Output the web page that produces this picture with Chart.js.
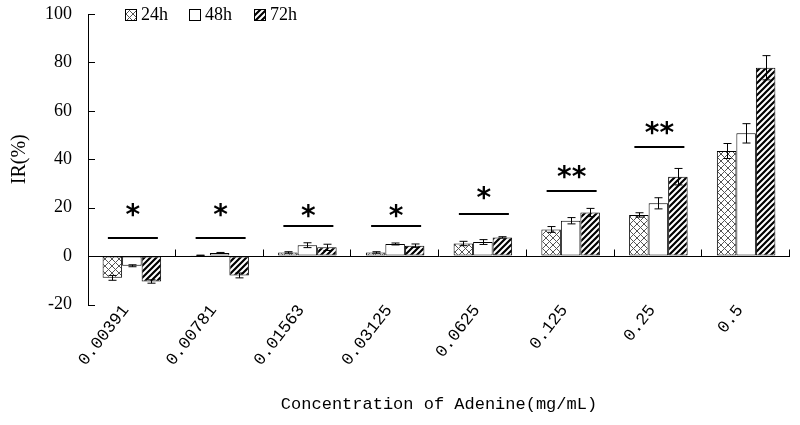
<!DOCTYPE html>
<html>
<head>
<meta charset="utf-8">
<script src="https://cdn.jsdelivr.net/npm/chart.js@4.4.1/dist/chart.umd.min.js"></script>
<style>
  html, body { margin: 0; padding: 0; background: #fff; }
  #wrap { width: 800px; height: 425px; }
</style>
</head>
<body>
<div id="wrap"><canvas id="c" width="800" height="425"></canvas></div>
<script>
// ---- data ----
const categories = ['0.00391', '0.00781', '0.01563', '0.03125', '0.0625', '0.125', '0.25', '0.5'];
const seriesNames = ['24h', '48h', '72h'];
const ir24 = [-9, 0.3, 1.5, 1.5, 5.2, 11, 17, 43.4];
const ir48 = [-4, 1.3, 4.5, 5, 5.8, 14.6, 21.8, 50.7];
const ir72 = [-10.5, -8, 3.6, 4.3, 7.7, 18, 32.8, 77.8];
const err24 = [1, 0.1, 0.3, 0.3, 0.9, 1.2, 0.9, 3.1];
const err48 = [0.4, 0.2, 1, 0.4, 1, 1.3, 2.3, 4];
const err72 = [0.7, 1, 1.3, 0.7, 0.3, 1.7, 3.4, 5];
const sigMarks = ['*', '*', '*', '*', '*', '**', '**', ''];
const sigLineY = [7.4, 7.4, 12.5, 12.5, 17.4, 27, 45.2, null];
const sigStarY = [19, 19, 18.7, 18.7, 26, 34.7, 52.8, null];
const yMin = -20, yMax = 100, yStep = 20;

// ---- patterns ----
function makeTile(size, draw) {
  const c = document.createElement('canvas');
  c.width = size; c.height = size;
  const g = c.getContext('2d');
  g.fillStyle = '#fff'; g.fillRect(0, 0, size, size);
  draw(g, size);
  return document.getElementById('c').getContext('2d').createPattern(c, 'repeat');
}
const crossPat = makeTile(7, (g, s) => {
  g.strokeStyle = '#555'; g.lineWidth = 1;
  g.beginPath();
  g.moveTo(0, 0); g.lineTo(s, s);
  g.moveTo(0, s); g.lineTo(s, 0);
  g.stroke();
});
const stripePat = makeTile(6, (g, s) => {
  g.strokeStyle = '#000'; g.lineWidth = 2.2;
  g.beginPath();
  g.moveTo(-s, 2 * s); g.lineTo(2 * s, -s);
  g.moveTo(-2 * s, 2 * s); g.lineTo(s, -s);
  g.moveTo(0, 2 * s); g.lineTo(3 * s, -s);
  g.stroke();
});
const fills = [crossPat, '#fff', stripePat];

// ---- plugin: error bars, inward ticks, significance marks, legend ----
function seg(ctx, x1, y1, x2, y2) { ctx.beginPath(); ctx.moveTo(x1, y1); ctx.lineTo(x2, y2); ctx.stroke(); }
const annot = {
  id: 'annot',
  afterDatasetsDraw(chart) {
    const { ctx, chartArea: a, scales: { x, y } } = chart;
    ctx.save();
    ctx.strokeStyle = '#000';
    ctx.lineWidth = 1;
    // error bars
    chart.data.datasets.forEach((ds, i) => {
      chart.getDatasetMeta(i).data.forEach((el, j) => {
        const v = ds.data[j], e = ds.errors[j];
        const xc = Math.round(el.x) + 0.5;
        const t = y.getPixelForValue(v + e), b = y.getPixelForValue(v - e);
        seg(ctx, xc, t, xc, b);
        seg(ctx, xc - 4, t, xc + 4, t);
        seg(ctx, xc - 4, b, xc + 4, b);
      });
    });
    // y ticks pointing inward
    y.ticks.forEach(t => {
      const py = Math.round(y.getPixelForValue(t.value)) + 0.5;
      seg(ctx, a.left, py, a.left + 7, py);
    });
    // x ticks at category boundaries, pointing up from zero line
    const zy = Math.round(y.getPixelForValue(0)) + 0.5;
    for (let i = 1; i <= categories.length; i++) {
      const px = Math.round(x.getPixelForValue(i - 0.5)) - 0.5;
      seg(ctx, px, zy, px, zy - 7);
    }
    // significance marks
    ctx.lineWidth = 2;
    ctx.fillStyle = '#000';
    ctx.font = 'bold 28px "DejaVu Sans"';
    ctx.textAlign = 'center';
    ctx.textBaseline = 'alphabetic';
    categories.forEach((c, j) => {
      if (!sigMarks[j]) return;
      const cx = x.getPixelForValue(j) + 1;
      const ly = Math.round(y.getPixelForValue(sigLineY[j]));
      seg(ctx, cx - 25, ly, cx + 25, ly);
      const m = ctx.measureText(sigMarks[j]);
      const sy = y.getPixelForValue(sigStarY[j]);
      const off = (m.actualBoundingBoxAscent - m.actualBoundingBoxDescent) / 2;
      ctx.fillText(sigMarks[j], cx, sy + off);
    });
    // legend
    ctx.lineWidth = 1;
    ctx.font = '18px "Liberation Serif"';
    ctx.textAlign = 'left';
    ctx.textBaseline = 'middle';
    const lx = [125, 189, 254];
    chart.data.datasets.forEach((ds, i) => {
      ctx.fillStyle = ds.backgroundColor;
      ctx.fillRect(lx[i], 9, 11, 11);
      ctx.strokeRect(lx[i] + 0.5, 9.5, 11, 11);
      ctx.fillStyle = '#000';
      ctx.fillText(ds.label, lx[i] + 16, 15.5);
    });
    ctx.restore();
  }
};

const ds = [ir24, ir48, ir72].map((d, i) => ({
  label: seriesNames[i],
  data: d,
  errors: [err24, err48, err72][i],
  backgroundColor: fills[i],
  borderColor: '#000',
  borderWidth: 1,
  borderSkipped: false,
  categoryPercentage: 0.667,
  barPercentage: 1
}));

new Chart(document.getElementById('c'), {
  type: 'bar',
  data: { labels: categories, datasets: ds },
  options: {
    responsive: false,
    animation: false,
    layout: { padding: { top: 14, right: 10, left: 0, bottom: 0 } },
    plugins: { legend: { display: false }, tooltip: { enabled: false } },
    scales: {
      x: {
        grid: { display: false, drawTicks: false },
        border: { display: false },
        ticks: {
          autoSkip: false, minRotation: 52, maxRotation: 52, mirror: true,
          padding: -9, labelOffset: 10,
          color: '#000', font: { family: '"Liberation Mono"', size: 17 }
        },
        title: {
          display: true, text: 'Concentration of Adenine(mg/mL)', color: '#000',
          font: { family: '"Liberation Mono"', size: 17 }, padding: { top: 0, bottom: 10 }
        },
        afterFit(s) { s.height = 120.5; s.paddingLeft = 0; s.paddingRight = 0; }
      },
      y: {
        min: yMin, max: yMax,
        ticks: { stepSize: yStep, padding: 16, color: '#000', font: { family: '"Liberation Serif"', size: 18 } },
        grid: {
          drawTicks: false,
          color: c => (c.tick && c.tick.value === 0 ? '#000' : 'rgba(0,0,0,0)'),
          lineWidth: 1
        },
        border: { display: true, color: '#000', width: 1 },
        title: {
          display: true, text: 'IR(%)', color: '#000',
          font: { family: '"Liberation Serif"', size: 20 }, padding: { top: 8, bottom: 0 }
        },
        afterFit(s) { s.width = 88; s.paddingTop = 0; s.paddingBottom = 0; }
      }
    }
  },
  plugins: [annot]
});
</script>
</body>
</html>
